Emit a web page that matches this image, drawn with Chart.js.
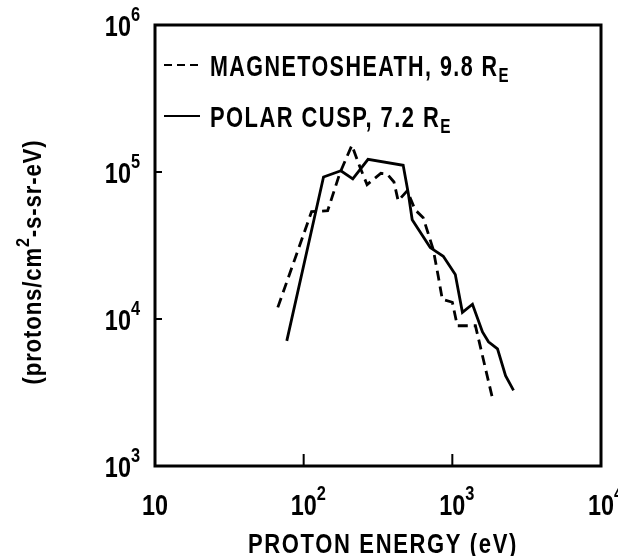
<!DOCTYPE html>
<html lang="en">

<head>
    <meta charset="UTF-8">
    <title>Proton Energy Spectra</title>
    <script src="https://cdn.jsdelivr.net/npm/chart.js"></script>
    <style>
        body { margin: 0; background: #fff; }
        canvas { display: block; background: #fff; }
    </style>
</head>

<body>
    <canvas id="myChart" width="618" height="556"></canvas>
    <script>
        // magnetosheath spectrum (dashed)
        const sheathEnergy = [67, 113, 145, 175, 211, 239, 267, 331, 364, 405, 432, 497, 562, 637, 744, 804, 856, 1000, 1080, 1430, 1860];
        const sheathFlux = [12000, 53700, 54500, 98000, 152000, 108000, 82000, 98000, 97000, 85500, 63700, 74500, 55300, 48900, 29700, 19500, 13600, 13000, 9000, 9000, 2900];

        // polar cusp spectrum (solid)
        const cuspEnergy = [77, 136, 178, 214, 271, 467, 505, 537, 710, 869, 1047, 1169, 1366, 1595, 1750, 2013, 2280, 2580];
        const cuspFlux = [7100, 92500, 102000, 89700, 122000, 111000, 72100, 47400, 30600, 26700, 20100, 11100, 12600, 8160, 7000, 6270, 4120, 3270];

        const seriesNames = ['MAGNETOSHEATH, 9.8 R', 'POLAR CUSP, 7.2 R'];
        const seriesSubs = ['E', 'E'];

        const xTickValues = [10, 100, 1000, 10000];
        const xTickExps = ['', '2', '3', '4'];
        const yTickValues = [1000, 10000, 100000, 1000000];
        const yTickExps = ['3', '4', '5', '6'];

        const FONT = '"Liberation Sans", Arial, sans-serif';

        function toPoints(xs, ys) {
            return xs.map((v, i) => ({ x: v, y: ys[i] }));
        }

        // condensed-looking text: pieces [{t, size, dy}], squeezed horizontally
        // either by a fixed factor or to fit a target width
        function drawText(ctx, pieces, x, y, align, opts) {
            const spacing = opts.spacing || 0;
            ctx.save();
            ctx.letterSpacing = spacing + 'px';
            let total = 0;
            pieces.forEach(p => {
                ctx.font = 'bold ' + p.size + 'px ' + FONT;
                p.w = ctx.measureText(p.t).width;
                total += p.w;
            });
            const sq = opts.width ? opts.width / total : (opts.squeeze || 0.8);
            let start = x;
            if (align === 'right') start = x - total * sq;
            if (align === 'center') start = x - total * sq / 2;
            ctx.translate(start, y);
            ctx.scale(sq, 1);
            let cx = 0;
            pieces.forEach(p => {
                ctx.font = 'bold ' + p.size + 'px ' + FONT;
                ctx.fillText(p.t, cx, p.dy || 0);
                cx += p.w;
            });
            ctx.restore();
        }

        const overlay = {
            id: 'overlay',
            afterDraw(chart) {
                const { ctx, chartArea: a, scales: { x, y } } = chart;
                ctx.save();
                ctx.strokeStyle = '#000';
                ctx.fillStyle = '#000';
                ctx.textBaseline = 'alphabetic';
                ctx.textAlign = 'left';

                // frame
                ctx.lineWidth = 3;
                ctx.strokeRect(a.left, a.top, a.right - a.left, a.bottom - a.top);

                // inner tick marks
                ctx.lineWidth = 2;
                ctx.beginPath();
                xTickValues.slice(1, -1).forEach(v => {
                    const px = x.getPixelForValue(v);
                    ctx.moveTo(px, a.bottom);
                    ctx.lineTo(px, a.bottom - 12);
                });
                yTickValues.slice(1, -1).forEach(v => {
                    const py = y.getPixelForValue(v);
                    ctx.moveTo(a.left, py);
                    ctx.lineTo(a.left + 7, py);
                });
                ctx.stroke();

                // x tick labels: "10" centred on the tick, exponent to the right
                xTickValues.forEach((v, i) => {
                    const px = x.getPixelForValue(v);
                    ctx.font = 'bold 30px ' + FONT;
                    const w = ctx.measureText('10').width * 0.78;
                    drawText(ctx, [{ t: '10', size: 30 }, { t: xTickExps[i], size: 21, dy: -15 }], px - w / 2, a.bottom + 49, 'left', { squeeze: 0.78 });
                });

                // y tick labels
                yTickValues.forEach((v, i) => {
                    const py = y.getPixelForValue(v);
                    drawText(ctx, [{ t: '10', size: 30 }, { t: yTickExps[i], size: 21, dy: -15 }], 140, py + 11, 'right', { squeeze: 0.78 });
                });

                // axis titles
                drawText(ctx, [{ t: 'PROTON ENERGY (eV)', size: 27 }], 383, 553, 'center', { width: 270, spacing: 2 });
                ctx.translate(41, 262);
                ctx.rotate(-Math.PI / 2);
                drawText(ctx, [{ t: '(protons/cm', size: 26 }, { t: '2', size: 19, dy: -12 }, { t: '-s-sr-eV)', size: 26 }], 0, 0, 'center', { width: 245, spacing: 1 });
                ctx.restore();

                // legend
                ctx.save();
                ctx.fillStyle = '#000';
                ctx.strokeStyle = '#000';
                const legendWidths = [300, 242];
                chart.data.datasets.forEach((ds, i) => {
                    const base = 76 + i * 51;
                    ctx.lineWidth = 2;
                    ctx.setLineDash(i === 0 ? [8, 5] : []);
                    ctx.beginPath();
                    ctx.moveTo(164, base - 11);
                    ctx.lineTo(200, base - 11);
                    ctx.stroke();
                    ctx.setLineDash([]);
                    drawText(ctx, [{ t: seriesNames[i], size: 30 }, { t: seriesSubs[i], size: 21, dy: 6 }], 210, base, 'left', { width: legendWidths[i], spacing: 2 });
                });
                ctx.restore();
            }
        };

        const ctx = document.getElementById('myChart').getContext('2d');
        const myChart = new Chart(ctx, {
            type: 'line',
            data: {
                datasets: [{
                    label: seriesNames[0],
                    data: toPoints(sheathEnergy, sheathFlux),
                    borderColor: '#000',
                    borderWidth: 2.8,
                    borderDash: [10, 6],
                    pointRadius: 0,
                    tension: 0,
                    fill: false
                }, {
                    label: seriesNames[1],
                    data: toPoints(cuspEnergy, cuspFlux),
                    borderColor: '#000',
                    borderWidth: 2.8,
                    pointRadius: 0,
                    tension: 0,
                    fill: false
                }]
            },
            options: {
                responsive: false,
                animation: false,
                layout: { padding: { top: 25, right: 17, left: 0, bottom: 0 } },
                plugins: { legend: { display: false }, tooltip: { enabled: false } },
                scales: {
                    x: {
                        type: 'logarithmic',
                        min: 10,
                        max: 10000,
                        ticks: { display: false },
                        grid: { display: false },
                        border: { display: false },
                        afterFit: s => { s.height = 90; }
                    },
                    y: {
                        type: 'logarithmic',
                        min: 1000,
                        max: 1000000,
                        ticks: { display: false },
                        grid: { display: false },
                        border: { display: false },
                        afterFit: s => { s.width = 155; }
                    }
                }
            },
            plugins: [overlay]
        });
    </script>
</body>

</html>
